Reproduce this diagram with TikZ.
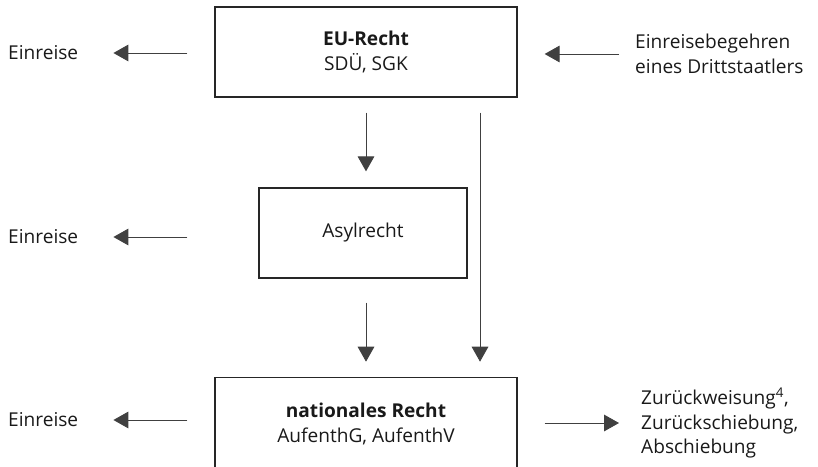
\documentclass[tikz,border=0pt]{standalone}
\usepackage{fontspec}
\setmainfont{Open Sans}
\usetikzlibrary{arrows.meta}

\begin{document}
\begin{tikzpicture}[x=0.03cm,y=0.03cm,
 font=\fontsize{16.3}{21}\selectfont,
 law/.style={draw=black!85, line width=1.1pt, minimum height=2.7cm, align=center, text=black!90},
 lbl/.style={inner sep=0pt, align=left, anchor=west, text=black!90},
 flow/.style={draw=black!75, line width=0.8pt, -{Triangle[length=0.45cm,width=0.5cm]}}]

 \useasboundingbox (0,0) rectangle (818,466);
 \clip (0,0) rectangle (818,466);

 % the three levels of law
 \node[law, minimum width=9.06cm] (eu) at (366,414) {\textbf{EU-Recht}\\SDÜ, SGK};
 \node[law, minimum width=6.24cm] (asyl) at (363,233) {Asylrecht};
 \node[law, minimum width=9.06cm, minimum height=2.8cm] (nat) at (366,42) {\textbf{nationales Recht}\\AufenthG, AufenthV};

 % outcomes on the left and right
 \node[lbl] (ein1) at (8,413) {Einreise};
 \node[lbl] (ein2) at (8,229) {Einreise};
 \node[lbl] (ein3) at (8,46) {Einreise};
 \node[lbl] (begehren) at (635,412) {Einreisebegehren\\eines Drittstaatlers};
 \node[lbl] (ziel) at (641,43) {Zurückweisung\textsuperscript{4},\\Zurückschiebung,\\Abschiebung};

 % horizontal arrows
 \draw[flow, shorten <=0.81cm, shorten >=1.05cm] (eu.west |- ein1.east) -- (ein1.east);
 \draw[flow, shorten <=2.13cm, shorten >=1.05cm] (asyl.west |- ein2.east) -- (ein2.east);
 \draw[flow, shorten <=0.81cm, shorten >=1.05cm] (nat.west |- ein3.east) -- (ein3.east);
 \draw[flow, shorten <=0.48cm, shorten >=0.81cm] (begehren.west) -- (eu.east |- begehren.west);
 \draw[flow, shorten <=0.81cm, shorten >=0.66cm] (nat.east |- ziel.west) -- (ziel.west);

 % vertical arrows
 \draw[flow, shorten <=0.45cm, shorten >=0.48cm] (eu.south) -- (eu.south |- asyl.north);
 \draw[flow, shorten <=0.72cm, shorten >=0.45cm] (nat.north |- asyl.south) -- (nat.north);
 \draw[flow, shorten <=0.45cm, shorten >=0.45cm] ([xshift=3.42cm]eu.south) -- ([xshift=3.42cm]nat.north);
\end{tikzpicture}
\end{document}
